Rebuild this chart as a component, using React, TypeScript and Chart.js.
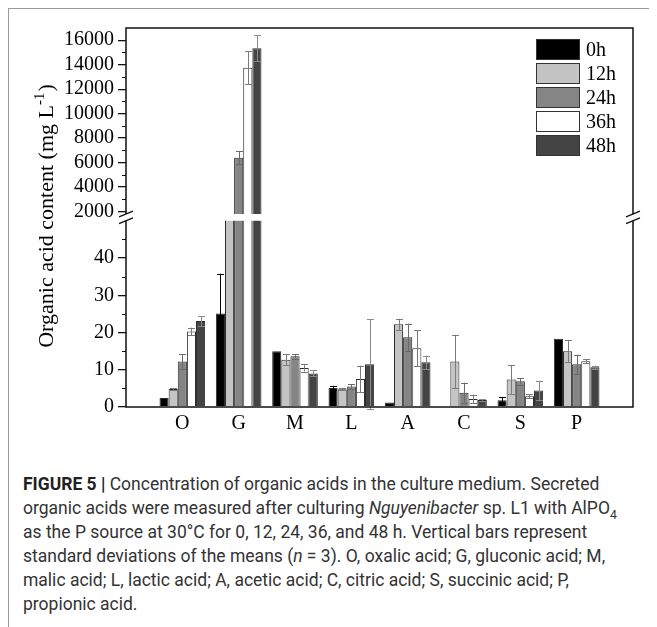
import React, { useEffect, useRef } from 'react';
import { Chart, LinearScale, registerables } from 'chart.js';

// ---------- data ----------
const categories = ['O', 'G', 'M', 'L', 'A', 'C', 'S', 'P'];
const seriesLabels = ['0h', '12h', '24h', '36h', '48h'];
const values0h = [2.4, 25.1, 15.0, 5.1, 1.2, 0, 1.8, 18.3];
const values12h = [4.8, 1500, 12.7, 4.75, 22.2, 12.2, 7.35, 14.95];
const values24h = [12.2, 6400, 13.6, 5.5, 18.7, 3.85, 6.9, 11.45];
const values36h = [20.3, 13750, 10.5, 7.5, 15.75, 2.15, 2.9, 12.3];
const values48h = [23.1, 15350, 9.0, 11.5, 12.0, 1.9, 4.4, 10.65];
const err0h = [0, 10.7, 0, 0.6, 0, 0, 0.8, 0];
const err12h = [0.3, 0, 1.5, 0.3, 1.5, 7.2, 3.8, 3.0];
const err24h = [2.0, 550, 0.6, 0.6, 3.7, 2.7, 0.9, 2.6];
const err36h = [1.0, 1350, 1.0, 3.6, 4.8, 1.2, 0.5, 0.5];
const err48h = [1.3, 1050, 0.8, 12.0, 1.8, 0.2, 2.6, 0.45];
const seriesColors = ['#000000', '#c4c4c4', '#858585', '#ffffff', '#444444'];
const errorColors = ['#000000', '#7a7a7a', '#6a6a6a', '#7a7a7a', '#8a8a8a'];

const lowerTicks = [0, 10, 20, 30, 40];
const upperTicks = [2000, 4000, 6000, 8000, 10000, 12000, 14000, 16000];
const lowerMinorTicks = [5, 15, 25, 35, 45];
const upperMinorTicks = [3000, 5000, 7000, 9000, 11000, 13000, 15000];

// axis break
const LOW_MAX = 50;
const HIGH_MIN = 1800;
const HIGH_MAX = 17000;
const LOW_FRAC = 0.4914;
const GAP_FRAC = 0.0178;

class BrokenLinearScale extends LinearScale {
  static id = 'brokenLinear';
  static defaults = {};
  buildTicks() {
    return [...lowerTicks, ...upperTicks].map((value) => ({ value }));
  }
  getPixelForValue(value: number) {
    if (value === null || value === undefined || isNaN(value)) return NaN;
    const h = this.bottom - this.top;
    const lowH = h * LOW_FRAC;
    const gapH = h * GAP_FRAC;
    const highH = h - lowH - gapH;
    if (value <= LOW_MAX) return this.bottom - (value / LOW_MAX) * lowH;
    if (value < HIGH_MIN)
      return this.bottom - lowH - ((value - LOW_MAX) / (HIGH_MIN - LOW_MAX)) * gapH;
    return this.bottom - lowH - gapH - ((value - HIGH_MIN) / (HIGH_MAX - HIGH_MIN)) * highH;
  }
  getValueForPixel(pixel: number) {
    const h = this.bottom - this.top;
    const lowH = h * LOW_FRAC;
    const gapH = h * GAP_FRAC;
    const highH = h - lowH - gapH;
    const d = this.bottom - pixel;
    if (d <= lowH) return (d / lowH) * LOW_MAX;
    if (d <= lowH + gapH) return LOW_MAX + ((d - lowH) / gapH) * (HIGH_MIN - LOW_MAX);
    return HIGH_MIN + ((d - lowH - gapH) / highH) * (HIGH_MAX - HIGH_MIN);
  }
}

Chart.register(...registerables, BrokenLinearScale);

const SERIF = '"Liberation Serif", "Times New Roman", serif';
const AXIS_COLOR = '#111';

const decorPlugin = {
  id: 'decor',
  afterDatasetsDraw(chart: any) {
    const { ctx, chartArea } = chart;
    const y = chart.scales.y;
    const gTop = y.getPixelForValue(HIGH_MIN);
    const gBot = y.getPixelForValue(LOW_MAX);
    ctx.save();
    ctx.fillStyle = '#ffffff';
    ctx.fillRect(chartArea.left + 1, gTop, chartArea.right - chartArea.left - 2, gBot - gTop);
    // error bars
    ctx.lineWidth = 1;
    chart.data.datasets.forEach((ds: any, di: number) => {
      const meta = chart.getDatasetMeta(di);
      ctx.strokeStyle = errorColors[di];
      meta.data.forEach((bar: any, i: number) => {
        const v = ds.data[i];
        const e = ds.errors[i];
        if (v === null || v === undefined || !e) return;
        const x = Math.round(bar.x) + 0.5;
        const yt = y.getPixelForValue(v + e);
        const yb = y.getPixelForValue(v - e);
        const cw = 3.5;
        ctx.beginPath();
        ctx.moveTo(x, yt);
        ctx.lineTo(x, yb);
        ctx.moveTo(x - cw, Math.round(yt) + 0.5);
        ctx.lineTo(x + cw, Math.round(yt) + 0.5);
        ctx.moveTo(x - cw, Math.round(yb) + 0.5);
        ctx.lineTo(x + cw, Math.round(yb) + 0.5);
        ctx.stroke();
      });
    });
    ctx.restore();
  },
  afterDraw(chart: any) {
    const { ctx, chartArea } = chart;
    const y = chart.scales.y;
    const { left, right, top, bottom } = chartArea;
    const gTop = y.getPixelForValue(HIGH_MIN);
    const gBot = y.getPixelForValue(LOW_MAX);
    ctx.save();
    ctx.strokeStyle = AXIS_COLOR;
    ctx.lineWidth = 1.5;
    ctx.beginPath();
    // left axis
    ctx.moveTo(left, top);
    ctx.lineTo(left, gTop);
    ctx.moveTo(left, gBot);
    ctx.lineTo(left, bottom);
    // right axis
    ctx.moveTo(right, top);
    ctx.lineTo(right, gTop);
    ctx.moveTo(right, gBot);
    ctx.lineTo(right, bottom);
    // top and bottom
    ctx.moveTo(left - 0.75, top);
    ctx.lineTo(right + 0.75, top);
    ctx.moveTo(left - 0.75, bottom);
    ctx.lineTo(right + 0.75, bottom);
    ctx.stroke();
    // break marks
    ctx.lineWidth = 1.3;
    ctx.beginPath();
    [left, right].forEach((x) => {
      [gTop, gBot].forEach((yc) => {
        ctx.moveTo(x - 7, yc + 2.8);
        ctx.lineTo(x + 7, yc - 2.8);
      });
    });
    ctx.stroke();
    // minor ticks
    ctx.lineWidth = 1.2;
    ctx.beginPath();
    [...lowerMinorTicks, ...upperMinorTicks].forEach((v) => {
      const py = Math.round(y.getPixelForValue(v)) + 0.5;
      ctx.moveTo(left - 4, py);
      ctx.lineTo(left, py);
    });
    ctx.stroke();

    // legend
    const boxX = 528;
    const boxW = 44;
    const boxH = 21;
    const rowTop = 31;
    const pitch = 24;
    ctx.font = `20px ${SERIF}`;
    ctx.textBaseline = 'middle';
    ctx.textAlign = 'left';
    chart.data.datasets.forEach((ds: any, i: number) => {
      const ty = rowTop + i * pitch;
      ctx.fillStyle = ds.backgroundColor;
      ctx.fillRect(boxX, ty, boxW, boxH);
      ctx.strokeStyle = '#333';
      ctx.lineWidth = 1;
      ctx.strokeRect(boxX + 0.5, ty + 0.5, boxW - 1, boxH - 1);
      ctx.fillStyle = '#000';
      ctx.fillText(ds.label, boxX + boxW + 6, ty + boxH / 2 + 1);
    });

    // y axis title with superscript
    const main = 'Organic acid content (mg L';
    const sup = '-1';
    const close = ')';
    ctx.translate(44.5, 208);
    ctx.rotate(-Math.PI / 2);
    ctx.fillStyle = '#000';
    ctx.textBaseline = 'alphabetic';
    ctx.font = `22px ${SERIF}`;
    const w1 = ctx.measureText(main).width;
    const w3 = ctx.measureText(close).width;
    ctx.font = `15px ${SERIF}`;
    const w2 = ctx.measureText(sup).width;
    const total = w1 + w2 + w3 + 1;
    let x0 = -total / 2;
    ctx.font = `22px ${SERIF}`;
    ctx.fillText(main, x0, 0);
    x0 += w1;
    ctx.font = `15px ${SERIF}`;
    ctx.fillText(sup, x0, -9);
    x0 += w2 + 1;
    ctx.font = `22px ${SERIF}`;
    ctx.fillText(close, x0, 0);
    ctx.restore();
  },
};

const pad = (arr: number[]) => [null, ...arr, null];

export default function App() {
  const canvasRef = useRef<HTMLCanvasElement | null>(null);

  useEffect(() => {
    if (!canvasRef.current) return;
    const valueSets = [values0h, values12h, values24h, values36h, values48h];
    const errSets = [err0h, err12h, err24h, err36h, err48h];
    const chart = new Chart(canvasRef.current, {
      type: 'bar',
      data: {
        labels: ['', ...categories, ''],
        datasets: seriesLabels.map((label, i) => ({
          label,
          data: pad(valueSets[i]),
          errors: pad(errSets[i]),
          backgroundColor: seriesColors[i],
          borderColor: '#2a2a2a',
          borderWidth: 1,
          categoryPercentage: 0.81,
          barPercentage: 1.0,
        })) as any,
      },
      options: {
        animation: false,
        responsive: true,
        maintainAspectRatio: false,
        layout: { padding: { top: 20, right: 24, left: 0, bottom: 0 } },
        plugins: {
          legend: { display: false },
          tooltip: { enabled: false },
        },
        scales: {
          x: {
            type: 'category',
            offset: false,
            grid: { display: false, drawTicks: false },
            border: { display: false },
            ticks: {
              autoSkip: false,
              maxRotation: 0,
              padding: 5,
              color: '#000',
              font: { family: SERIF, size: 20 },
            },
            afterFit: (s: any) => {
              s.height = 41;
            },
          },
          y: {
            type: 'brokenLinear' as any,
            min: 0,
            max: HIGH_MAX,
            grid: {
              display: true,
              drawOnChartArea: false,
              drawTicks: true,
              tickLength: 8,
              color: AXIS_COLOR,
              lineWidth: 1.3,
            },
            border: { display: false },
            ticks: {
              autoSkip: false,
              padding: 4,
              color: '#000',
              font: { family: SERIF, size: 20 },
              callback: (v: any) => String(v),
            },
            afterFit: (s: any) => {
              s.width = 118;
            },
          } as any,
        },
      },
      plugins: [decorPlugin],
    });
    return () => chart.destroy();
  }, []);

  const capStyle: React.CSSProperties = {
    position: 'absolute',
    left: 15,
    top: 464,
    fontFamily: 'Roboto, "Liberation Sans", sans-serif',
    fontSize: 17.5,
    lineHeight: '24px',
    color: '#333',
    whiteSpace: 'nowrap',
  };

  return (
    <div style={{ position: 'relative', width: 649, height: 619 }}>
      <div
        style={{
          position: 'absolute',
          left: 0,
          top: 0,
          right: 0,
          bottom: 0,
          borderTop: '1px solid #9a9a9a',
          borderLeft: '1px solid #9a9a9a',
        }}
      />
      <div style={{ position: 'absolute', left: 0, top: 0, width: 649, height: 440 }}>
        <canvas ref={canvasRef} />
      </div>
      <div style={capStyle}>
        <div>
          <b style={{ color: '#222' }}>FIGURE 5 |</b> Concentration of organic acids in the culture medium. Secreted
        </div>
        <div>
          organic acids were measured after culturing <i>Nguyenibacter</i> sp. L1 with AlPO
          <sub style={{ fontSize: '0.7em', lineHeight: 0 }}>4</sub>
        </div>
        <div>as the P source at 30°C for 0, 12, 24, 36, and 48 h. Vertical bars represent</div>
        <div>
          standard deviations of the means (<i>n</i> = 3). O, oxalic acid; G, gluconic acid; M,
        </div>
        <div>malic acid; L, lactic acid; A, acetic acid; C, citric acid; S, succinic acid; P,</div>
        <div>propionic acid.</div>
      </div>
    </div>
  );
}
